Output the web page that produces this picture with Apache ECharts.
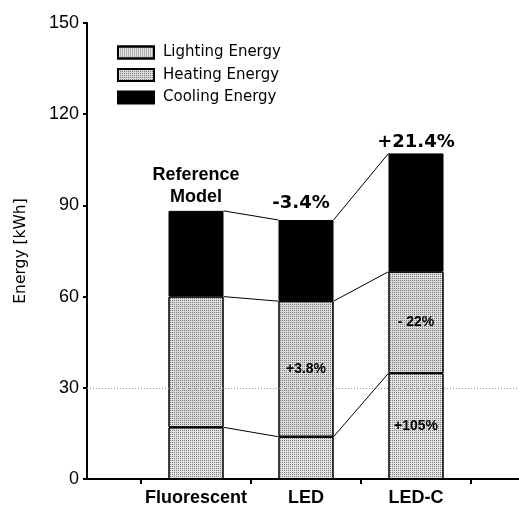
<!DOCTYPE html>
<html>
<head>
<meta charset="utf-8">
<script src="https://cdn.jsdelivr.net/npm/echarts@6/dist/echarts.min.js"></script>
<style>html,body{margin:0;padding:0;background:#fff}#c{width:519px;height:511px}</style>
</head>
<body>
<div id="c"></div>
<script>
var categories = ['Fluorescent', 'LED', 'LED-C'];
var lighting = [17.0, 13.9, 34.8];
var heating = [43.0, 44.6, 33.4];
var cooling = [28.2, 26.7, 38.9];
var yTicks = [0, 30, 60, 90, 120, 150];
var topLabels = ['Reference\nModel', '-3.4%', '+21.4%'];
var heatingLabels = ['', '+3.8%', '- 22%'];
var lightingLabels = ['', '', '+105%'];
var seriesNames = ['Lighting Energy', 'Heating Energy', 'Cooling Energy'];

var lightTop = lighting.slice();
var heatTop = lighting.map(function (v, i) { return v + heating[i]; });
var total = heatTop.map(function (v, i) { return v + cooling[i]; });

var chart = echarts.init(document.getElementById('c'));
var stipple = { symbol: 'rect', symbolSize: 1, dashArrayX: [1, 1], dashArrayY: [1, 1], color: 'rgba(0,0,0,0.45)' };
var topLabelStyles = [
  { fontFamily: 'Liberation Sans', fontWeight: 'bold', fontSize: 18, lineHeight: 22, distance: 3 },
  { fontFamily: 'DejaVu Sans', fontWeight: 'bold', fontSize: 18, distance: 8, offset: [-5, 0] },
  { fontFamily: 'DejaVu Sans', fontWeight: 'bold', fontSize: 18, distance: 2 }
];
var inLabel = { show: true, position: 'inside', color: '#000', fontFamily: 'Liberation Sans', fontWeight: 'bold', fontSize: 14 };

chart.setOption({
  animation: false,
  backgroundColor: '#fff',
  grid: [
    { left: 141, right: 48, top: 23, bottom: 32 },
    { left: 87, right: 0, top: 23, bottom: 32 }
  ],
  legend: {
    left: 117, top: 45, orient: 'vertical', itemWidth: 36, itemHeight: 12, itemGap: 7.5,
    padding: 0,
    icon: 'rect',
    data: seriesNames,
    textStyle: { color: '#000', fontFamily: 'DejaVu Sans', fontSize: 15, padding: [0, 0, 0, 4] }
  },
  xAxis: [
    { type: 'category', gridIndex: 0, data: categories, boundaryGap: true,
      axisLine: { show: false },
      axisTick: { show: true, length: 5, lineStyle: { color: '#000', width: 2 } },
      axisLabel: { interval: 0, color: '#000', fontFamily: 'Liberation Sans', fontWeight: 'bold', fontSize: 18, margin: 10 } },
    { type: 'value', gridIndex: 1, min: 0, max: 1,
      axisLine: { show: true, onZero: false, lineStyle: { color: '#000', width: 2 } },
      axisTick: { show: false }, axisLabel: { show: false }, splitLine: { show: false } }
  ],
  yAxis: [
    { type: 'value', gridIndex: 0, min: 0, max: 150, interval: 30, show: false, splitLine: { show: false } },
    { type: 'value', gridIndex: 1, min: yTicks[0], max: yTicks[yTicks.length - 1], interval: 30,
      name: 'Energy [kWh]', nameLocation: 'middle', nameGap: 58,
      nameTextStyle: { color: '#000', fontFamily: 'DejaVu Sans', fontSize: 15.5 },
      axisLine: { show: true, lineStyle: { color: '#000', width: 2 } },
      axisTick: { show: true, length: 4, lineStyle: { color: '#000', width: 2 } },
      axisLabel: { color: '#000', fontFamily: 'Liberation Sans', fontSize: 18, margin: 8 },
      splitLine: { show: false } }
  ],
  series: [
    { name: seriesNames[0], type: 'bar', stack: 'e', xAxisIndex: 0, yAxisIndex: 0, barWidth: '50%',
      itemStyle: { color: '#e2e2e2', borderColor: '#000', borderWidth: 1, decal: stipple },
      label: Object.assign({}, inLabel, { formatter: function (p) { return lightingLabels[p.dataIndex]; } }),
      data: lighting },
    { name: seriesNames[1], type: 'bar', stack: 'e', xAxisIndex: 0, yAxisIndex: 0, barWidth: '50%',
      itemStyle: { color: '#dcdcdc', borderColor: '#000', borderWidth: 1, decal: stipple },
      label: Object.assign({}, inLabel, { formatter: function (p) { return heatingLabels[p.dataIndex]; } }),
      data: heating },
    { name: seriesNames[2], type: 'bar', stack: 'e', xAxisIndex: 0, yAxisIndex: 0, barWidth: '50%',
      itemStyle: { color: '#000', borderColor: '#000', borderWidth: 1 },
      data: cooling.map(function (v, i) {
        return { value: v, label: Object.assign({ show: true, position: 'top', color: '#000',
          formatter: topLabels[i] }, topLabelStyles[i]) };
      }) },
    { name: 'connectors', type: 'custom', xAxisIndex: 0, yAxisIndex: 0, z: 5,
      data: categories.map(function (c, i) { return [i, lightTop[i], heatTop[i], total[i]]; }),
      renderItem: function (params, api) {
        var i = params.dataIndex;
        if (i >= categories.length - 1) return null;
        var half = api.size([1, 0])[0] * 0.25;
        var levels = [lightTop, heatTop, total];
        var children = levels.map(function (arr) {
          var a = api.coord([i, arr[i]]);
          var b = api.coord([i + 1, arr[i + 1]]);
          return { type: 'line', shape: { x1: a[0] + half, y1: a[1], x2: b[0] - half, y2: b[1] },
            style: { stroke: '#000', lineWidth: 1 } };
        });
        return { type: 'group', children: children };
      } },
    { name: 'grid30', type: 'line', xAxisIndex: 1, yAxisIndex: 1, data: [], silent: true,
      markLine: { silent: true, symbol: 'none', label: { show: false },
        lineStyle: { color: '#999', type: [1, 2], width: 1 },
        data: [{ yAxis: yTicks[1] }] } }
  ]
});
</script>
</body>
</html>
